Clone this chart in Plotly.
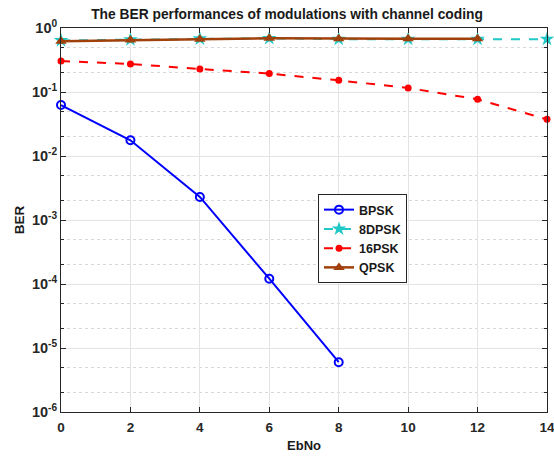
import plotly.graph_objects as go

ebno = [0, 2, 4, 6, 8, 10, 12, 14]
bpsk_x = [0, 2, 4, 6, 8]
bpsk = [0.0626, 0.0176, 0.00229, 1.21e-4, 6.0e-6]
dpsk8 = [0.64, 0.66, 0.68, 0.69, 0.67, 0.67, 0.67, 0.67]
psk16 = [0.305, 0.274, 0.229, 0.194, 0.152, 0.1155, 0.0769, 0.0374]
qpsk_x = [0, 2, 4, 6, 8, 10, 12]
qpsk = [0.62, 0.65, 0.67, 0.69, 0.68, 0.68, 0.68]

x_ticks = [0, 2, 4, 6, 8, 10, 12, 14]
y_tickvals = [1e-6, 1e-5, 1e-4, 1e-3, 1e-2, 1e-1, 1]
y_ticktext = ["10<sup>-6</sup>", "10<sup>-5</sup>", "10<sup>-4</sup>", "10<sup>-3</sup>",
              "10<sup>-2</sup>", "10<sup>-1</sup>", "10<sup>0</sup>"]

FONT = "Liberation Sans, Arial, sans-serif"

fig = go.Figure()
fig.add_trace(go.Scatter(x=bpsk_x, y=bpsk, name="BPSK", mode="lines+markers", cliponaxis=False,
                         line=dict(color="#0000FF", width=2),
                         marker=dict(symbol="circle-open", size=8, color="#0000FF",
                                     line=dict(width=2, color="#0000FF"))))
fig.add_trace(go.Scatter(x=ebno, y=dpsk8, name="8DPSK", mode="lines+markers", cliponaxis=False,
                         line=dict(color="#22C8C8", width=2, dash="dash"),
                         marker=dict(symbol="star", size=11, color="#22C8C8")))
fig.add_trace(go.Scatter(x=ebno, y=psk16, name="16PSK", mode="lines+markers", cliponaxis=False,
                         line=dict(color="#FF0000", width=2, dash="dash"),
                         marker=dict(symbol="circle", size=7, color="#FF0000")))
fig.add_trace(go.Scatter(x=qpsk_x, y=qpsk, name="QPSK", mode="lines+markers", cliponaxis=False,
                         line=dict(color="#A0400A", width=2.5),
                         marker=dict(symbol="triangle-up", size=10, color="#A0400A")))

fig.update_layout(
    width=554, height=458,
    margin=dict(l=61, r=7, t=28, b=46, autoexpand=False),
    paper_bgcolor="white", plot_bgcolor="white",
    font=dict(family=FONT, size=12, color="#262626"),
    title=dict(text="<b>The BER performances of modulations with channel coding</b>",
               x=287 / 554, xanchor="center", y=1 - 14 / 458, yanchor="middle",
               font=dict(family=FONT, size=13.8, color="#1a1a1a")),
    legend=dict(x=(318 - 61) / 486, y=1 - (194 - 28) / 384, xanchor="left", yanchor="top",
                bgcolor="white", bordercolor="#262626", borderwidth=1,
                font=dict(family=FONT, size=12.5, color="#1a1a1a", weight="bold"),
                tracegroupgap=0, itemwidth=30),
    showlegend=True,
)

fig.update_xaxes(
    range=[0, 14], tickvals=x_ticks, ticks="inside", ticklen=5, tickcolor="#262626",
    showline=True, linecolor="#262626", linewidth=1, mirror="ticks",
    showgrid=True, gridcolor="#E3E3E3", gridwidth=1, zeroline=False, automargin=False,
    ticklabeloverflow="allow", ticklabelstandoff=3,
    tickfont=dict(family=FONT, size=13.5, color="#262626", weight="bold"),
    title=dict(text="<b>EbNo</b>", font=dict(family=FONT, size=13, color="#1a1a1a"), standoff=6),
)
fig.update_yaxes(
    type="log", range=[-6, 0], tickvals=y_tickvals, ticktext=y_ticktext,
    ticks="inside", ticklen=5, tickcolor="#262626", automargin=False,
    ticklabeloverflow="allow",
    showline=True, linecolor="#262626", linewidth=1, mirror="ticks",
    showgrid=True, gridcolor="#E3E3E3", gridwidth=1, zeroline=False,
    minor=dict(showgrid=True, gridcolor="#D8D8D8", griddash="dot", gridwidth=1,
               ticks="inside", ticklen=3, tickcolor="#262626", dtick="D2"),
    tickfont=dict(family=FONT, size=14.5, color="#262626", weight="bold"),
    title=dict(text="<b>BER</b>", font=dict(family=FONT, size=13.5, color="#1a1a1a"), standoff=4),
)

fig.write_html("out.html")
